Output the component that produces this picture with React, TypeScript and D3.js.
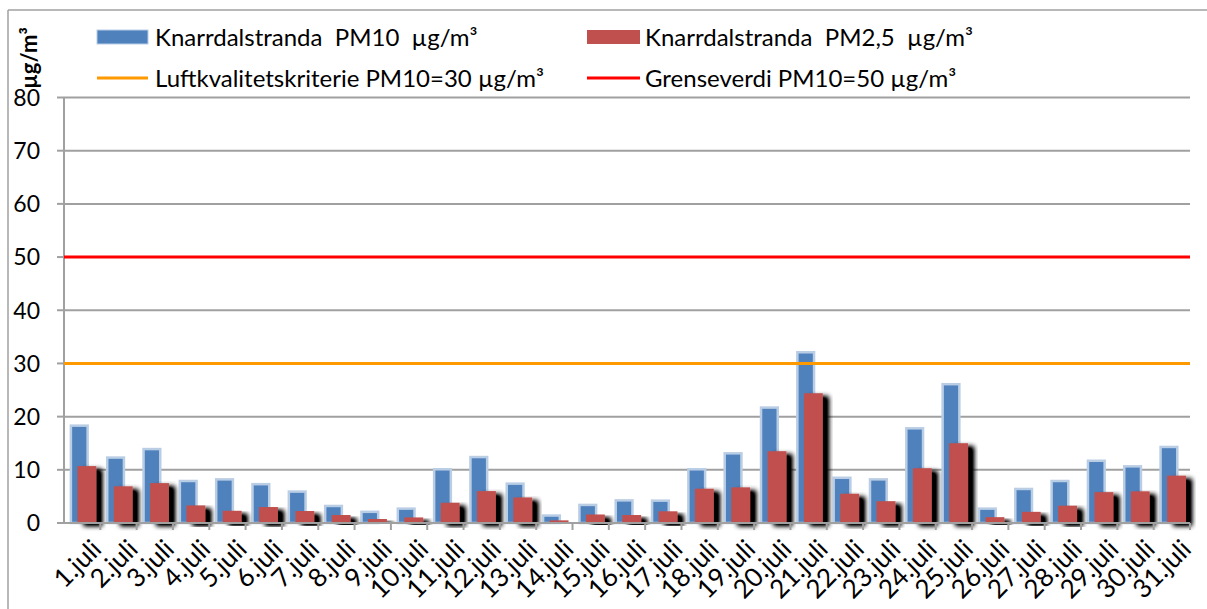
import React from 'react';
import * as d3 from 'd3';

const days = ['1.juli','2.juli','3.juli','4.juli','5.juli','6.juli','7.juli','8.juli','9.juli','10.juli','11.juli','12.juli','13.juli','14.juli','15.juli','16.juli','17.juli','18.juli','19.juli','20.juli','21.juli','22.juli','23.juli','24.juli','25.juli','26.juli','27.juli','28.juli','29.juli','30.juli','31.juli'];
const pm10 = [18.3, 12.3, 13.9, 7.9, 8.2, 7.3, 5.9, 3.2, 2.1, 2.7, 10.1, 12.4, 7.4, 1.4, 3.4, 4.25, 4.2, 10.1, 13.1, 21.7, 32.1, 8.5, 8.2, 17.8, 26.1, 2.7, 6.4, 7.9, 11.7, 10.65, 14.3];
const pm25 = [10.7, 6.9, 7.5, 3.3, 2.3, 3.0, 2.25, 1.5, 0.75, 1.05, 3.8, 6.0, 4.8, 0.5, 1.6, 1.5, 2.2, 6.45, 6.7, 13.5, 24.4, 5.5, 4.1, 10.3, 15.0, 1.1, 2.1, 3.25, 5.8, 5.95, 8.9];
const yTicks = [0, 10, 20, 30, 40, 50, 60, 70, 80];
const limitLines = [
  { value: 30, color: '#ff9900', label: 'Luftkvalitetskriterie PM10=30 µg/m³' },
  { value: 50, color: '#ff0000', label: 'Grenseverdi PM10=50 µg/m³' },
];
const barLabels = ['Knarrdalstranda  PM10  µg/m³', 'Knarrdalstranda  PM2,5  µg/m³'];

const FONT = 'Lato, "Open Sans", sans-serif';
const GRID = '#a0a0a0';

export default function App() {
  const left = 64, right = 1190, top = 97.5, bottom = 523;
  const x = d3.scaleBand<string>().domain(days).range([left, right]);
  const y = d3.scaleLinear().domain([0, 80]).range([bottom, top]);
  const bw = x.bandwidth();
  const pre = { whiteSpace: 'pre' as const };

  return (
    <div style={{ position: 'absolute', left: 0, top: 0 }}>
      <svg width={1207} height={609} style={{ display: 'block', background: '#fff' }}>
        <defs>
          <filter id="shadow" x="-30%" y="-10%" width="180%" height="130%">
            <feGaussianBlur in="SourceAlpha" stdDeviation="2.4" />
            <feOffset dx="5.5" dy="2.5" result="b" />
            <feComponentTransfer><feFuncA type="linear" slope="1.3" /></feComponentTransfer>
            <feMerge><feMergeNode /><feMergeNode in="SourceGraphic" /></feMerge>
          </filter>
        </defs>
        {/* outer border */}
        <line x1={8} y1={10} x2={1207} y2={10} stroke={GRID} strokeWidth={1.5} />
        <line x1={8} y1={10} x2={8} y2={609} stroke={GRID} strokeWidth={1.5} />

        {/* gridlines & y ticks */}
        {yTicks.map((t) => (
          <g key={t}>
            {t > 0 && <line x1={left} x2={right} y1={y(t)} y2={y(t)} stroke={GRID} strokeWidth={2} />}
            <line x1={57} x2={left} y1={y(t)} y2={y(t)} stroke={GRID} strokeWidth={2} />
            <text x={40} y={y(t)} dy="0.36em" textAnchor="end" fontFamily={FONT} fontSize={23} fill="#000">{t}</text>
          </g>
        ))}
        {/* y axis line */}
        <line x1={left} x2={left} y1={top} y2={bottom} stroke={GRID} strokeWidth={2} />

        {/* bars */}
        {pm10.map((v, i) => (
          <rect key={'b' + i} x={x(days[i])! + bw * 0.19} width={bw * 0.46} y={y(v)} height={bottom - y(v)}
            fill="#4f81bd" stroke="#b9cde5" strokeWidth={2.5} />
        ))}
        {pm25.map((v, i) => (
          <rect key={'r' + i} x={x(days[i])! + bw * 0.37} width={bw * 0.52} y={y(v)} height={bottom - y(v)}
            fill="#c0504d" filter="url(#shadow)" />
        ))}

        {/* limit lines */}
        {limitLines.map((l) => (
          <line key={l.value} x1={left} x2={right} y1={y(l.value)} y2={y(l.value)} stroke={l.color} strokeWidth={3} />
        ))}

        {/* x axis */}
        <line x1={left} x2={right} y1={bottom} y2={bottom} stroke={GRID} strokeWidth={2} />
        {days.map((d, i) => (
          <line key={'t' + i} x1={x(d)! + bw} x2={x(d)! + bw} y1={bottom} y2={bottom + 7} stroke={GRID} strokeWidth={2} />
        ))}
        {days.map((d) => {
          const cx = x(d)! + bw / 2 + 8;
          const cy = 538;
          return (
            <text key={'l' + d} x={cx} y={cy} textAnchor="end" fontFamily={FONT} fontSize={26} fill="#000"
              transform={`rotate(-45 ${cx} ${cy})`} dy="0.7em">{d}</text>
          );
        })}

        {/* y title */}
        <text transform="translate(37,58) rotate(-90)" textAnchor="middle" fontFamily={FONT} fontWeight="bold" fontSize={22}>µg/m³</text>

        {/* legend */}
        <rect x={97} y={30} width={51} height={14} fill="#4f81bd" stroke="#b9cde5" strokeWidth={1} />
        <text x={155} y={46} fontFamily={FONT} fontSize={24} style={pre}>{barLabels[0]}</text>
        <rect x={587} y={30} width={53} height={14} fill="#c0504d" />
        <text x={645} y={46} fontFamily={FONT} fontSize={24} style={pre}>{barLabels[1]}</text>
        <line x1={97} x2={148} y1={78} y2={78} stroke={limitLines[0].color} strokeWidth={3} />
        <text x={155} y={87} fontFamily={FONT} fontSize={24} style={pre}>{limitLines[0].label}</text>
        <line x1={587} x2={640} y1={78} y2={78} stroke={limitLines[1].color} strokeWidth={3} />
        <text x={645} y={87} fontFamily={FONT} fontSize={24} style={pre}>{limitLines[1].label}</text>
      </svg>
    </div>
  );
}
